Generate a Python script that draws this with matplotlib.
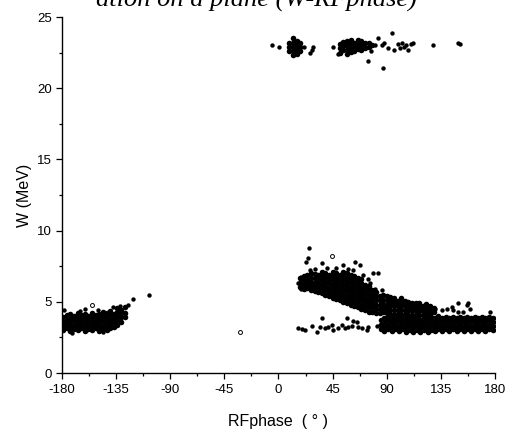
import matplotlib
matplotlib.use("Agg")
import matplotlib.pyplot as plt
from matplotlib.ticker import MultipleLocator

plt.rcParams['font.family'] = ['Liberation Sans', 'DejaVu Sans']
plt.rcParams['axes.unicode_minus'] = False

# ---------------- data (phase in degrees, W in MeV) ----------------
# left low-energy cluster, columns: (phase, [W values])
left_cols = [
    (-179, [3.0, 3.3, 3.6, 3.9]),
    (-176, [3.15, 3.45, 3.75, 4.05]),
    (-173, [2.95, 3.25, 3.55, 3.85, 4.15]),
    (-170, [3.1, 3.4, 3.7, 4.0]),
    (-167, [3.0, 3.3, 3.6, 3.9, 4.2]),
    (-164, [3.15, 3.45, 3.75, 4.05]),
    (-161, [2.95, 3.25, 3.55, 3.85, 4.15]),
    (-158, [3.1, 3.4, 3.7, 4.0]),
    (-155, [3.0, 3.3, 3.6, 3.9, 4.2]),
    (-152, [3.15, 3.45, 3.75, 4.05]),
    (-149, [2.95, 3.25, 3.55, 3.85, 4.15]),
    (-146, [3.1, 3.4, 3.7, 4.0, 4.3]),
    (-143, [3.0, 3.3, 3.6, 3.9, 4.2]),
    (-140, [3.15, 3.45, 3.75, 4.05, 4.35]),
    (-137, [3.25, 3.55, 3.85, 4.15]),
    (-134, [3.4, 3.7, 4.0, 4.3, 4.55]),
    (-131, [3.6, 3.9, 4.2, 4.45]),
    (-128, [3.9, 4.2, 4.6]),
]
left_extra_phase = [-178, -172, -161, -165, -150, -146, -125, -121, -108, -138, -132]
left_extra_w = [4.4, 2.8, 4.5, 4.35, 4.45, 2.85, 4.8, 5.2, 5.5, 4.6, 4.7]

# descending main band
band_cols = [
    (18, [6.05, 6.35, 6.65]),
    (21, [5.9, 6.2, 6.5, 6.8]),
    (24, [5.95, 6.25, 6.55, 6.85]),
    (27, [5.8, 6.1, 6.4, 6.7, 7.0]),
    (30, [5.75, 6.05, 6.35, 6.65, 6.95]),
    (33, [5.7, 6.0, 6.3, 6.6, 6.9]),
    (36, [5.6, 5.9, 6.2, 6.5, 6.8, 7.1]),
    (39, [5.5, 5.8, 6.1, 6.4, 6.7, 7.0]),
    (42, [5.4, 5.7, 6.0, 6.3, 6.6, 6.9]),
    (45, [5.3, 5.6, 5.9, 6.2, 6.5, 6.8, 7.1]),
    (48, [5.2, 5.5, 5.8, 6.1, 6.4, 6.7, 7.0]),
    (51, [5.1, 5.4, 5.7, 6.0, 6.3, 6.6, 6.9]),
    (54, [5.0, 5.3, 5.6, 5.9, 6.2, 6.5, 6.8, 7.1]),
    (57, [4.9, 5.2, 5.5, 5.8, 6.1, 6.4, 6.7, 7.0]),
    (60, [4.8, 5.1, 5.4, 5.7, 6.0, 6.3, 6.6, 6.9]),
    (63, [4.7, 5.0, 5.3, 5.6, 5.9, 6.2, 6.5, 6.8]),
    (66, [4.6, 4.9, 5.2, 5.5, 5.8, 6.1, 6.4, 6.7]),
    (69, [4.5, 4.8, 5.1, 5.4, 5.7, 6.0, 6.3, 6.6]),
    (72, [4.4, 4.7, 5.0, 5.3, 5.6, 5.9, 6.2]),
    (75, [4.3, 4.6, 4.9, 5.2, 5.5, 5.8, 6.1]),
    (78, [4.3, 4.6, 4.9, 5.2, 5.5, 5.8]),
    (81, [4.2, 4.5, 4.8, 5.1, 5.4, 5.7]),
    (84, [4.2, 4.5, 4.8, 5.1, 5.4]),
    (87, [4.25, 4.55, 4.85, 5.15, 5.45]),
    (90, [4.2, 4.5, 4.8, 5.1, 5.4]),
    (93, [4.15, 4.45, 4.75, 5.05, 5.35]),
    (96, [4.1, 4.4, 4.7, 5.0, 5.3]),
    (99, [4.15, 4.45, 4.75, 5.05]),
    (102, [4.1, 4.4, 4.7, 5.0, 5.25]),
    (105, [4.15, 4.45, 4.75, 5.05]),
    (108, [4.1, 4.4, 4.7, 5.0]),
    (111, [4.05, 4.35, 4.65, 4.95]),
    (114, [4.1, 4.4, 4.7, 4.95]),
    (117, [4.05, 4.35, 4.65, 4.9]),
    (120, [4.1, 4.4, 4.7]),
    (123, [4.05, 4.35, 4.65, 4.85]),
    (126, [4.15, 4.45, 4.7]),
    (129, [4.25, 4.55]),
]

# lower flat band
low_cols = [
    (85, [3.1, 3.4, 3.7]),
    (88, [2.95, 3.25, 3.55, 3.85]),
    (91, [3.1, 3.4, 3.7, 4.0]),
    (94, [2.95, 3.25, 3.55, 3.85]),
    (97, [3.1, 3.4, 3.7, 4.0]),
    (100, [2.95, 3.25, 3.55, 3.85]),
    (103, [3.1, 3.4, 3.7, 4.0]),
    (106, [2.9, 3.2, 3.5, 3.8]),
    (109, [3.05, 3.35, 3.65, 3.95]),
    (112, [2.9, 3.2, 3.5, 3.8]),
    (115, [3.05, 3.35, 3.65, 3.95]),
    (118, [2.85, 3.15, 3.45, 3.75]),
    (121, [3.0, 3.3, 3.6, 3.9]),
    (124, [2.9, 3.2, 3.5, 3.8]),
    (127, [3.05, 3.35, 3.65, 3.95]),
    (130, [2.95, 3.25, 3.55, 3.85]),
    (133, [3.1, 3.4, 3.7, 4.0]),
    (136, [2.95, 3.25, 3.55, 3.85]),
    (139, [3.1, 3.4, 3.7, 3.95]),
    (142, [2.95, 3.25, 3.55, 3.85]),
    (145, [3.1, 3.4, 3.7, 3.95]),
    (148, [2.95, 3.25, 3.55, 3.85]),
    (151, [3.1, 3.4, 3.7, 3.95]),
    (154, [2.95, 3.25, 3.55, 3.85]),
    (157, [3.1, 3.4, 3.7, 3.95]),
    (160, [2.95, 3.25, 3.55, 3.85]),
    (163, [3.1, 3.4, 3.7, 3.95]),
    (166, [2.95, 3.25, 3.55, 3.85]),
    (169, [3.1, 3.4, 3.7, 3.95]),
    (172, [2.95, 3.25, 3.55, 3.85]),
    (175, [3.1, 3.4, 3.7, 3.95]),
    (178, [3.0, 3.3, 3.6, 3.85]),
]

# scattered points around the main band
mid_extra_phase = [25, 24.5, 23, 36, 53.6, 63.6, 67.8, 78.6, 82.7, 19, 16, 18.5, 26, 30,
                   40, 48, 58, 62, 70, 74, 76, 80, 86,
                   130, 135.7, 139.8, 144, 149.5, 149.5, 156.5, 159, 145.3, 153.7, 157.8, 175.8,
                   16.5, 19.3, 22.0, 27.6, 31.7, 34.5, 35.9, 38.7, 41.4, 44.2, 45.6, 49.7,
                   52.5, 55.3, 56.7, 58.0, 60.8, 62.2, 65.0, 66.3, 69.2, 73.3, 74.7, 81.6,
                   84.4, 90]
mid_extra_w = [8.75, 8.1, 7.8, 7.7, 7.6, 7.8, 7.6, 7.0, 7.0, 6.75, 6.3, 5.9, 7.2, 7.3,
               7.35, 7.4, 7.3, 7.2, 6.9, 6.6, 6.3, 5.9, 5.8,
               4.5, 4.4, 4.5, 4.65, 4.9, 4.3, 4.76, 4.5, 4.4, 4.3, 4.9, 4.3,
               3.13, 3.06, 3.01, 3.29, 2.89, 3.2, 3.83, 3.13, 3.24, 3.36, 3.01, 3.13,
               3.36, 3.13, 3.83, 3.2, 3.29, 3.66, 3.6, 3.24, 3.13, 3.01, 3.2, 3.29,
               3.36, 3.24]

# high-energy cluster near W = 23 MeV
top_cols = [
    (9, [22.6, 22.9, 23.2]),
    (12, [22.3, 22.6, 22.9, 23.2, 23.5]),
    (15, [22.4, 22.7, 23.0, 23.3]),
    (18, [22.6, 22.9, 23.2]),
    (51, [22.5, 22.8, 23.1]),
    (54, [22.65, 22.95, 23.25]),
    (57, [22.4, 22.7, 23.0, 23.3]),
    (60, [22.55, 22.85, 23.15, 23.4]),
    (63, [22.6, 22.9, 23.2]),
    (66, [22.75, 23.05, 23.35]),
    (69, [22.7, 23.0, 23.3]),
    (72, [22.85, 23.15]),
    (75, [22.9, 23.2]),
    (78, [23.0]),
]
top_extra_phase = [-5.7, 0.6, 16.5, 21, 26, 28, 29, 45.6, 49.5, 80, 83, 86, 88, 91, 94,
                   96, 99, 101, 103, 104, 106, 108, 110, 112, 128.5, 149.5, 151, 74.5,
                   87, 77]
top_extra_w = [23.04, 22.9, 23.0, 22.9, 22.5, 22.7, 22.9, 22.9, 22.4, 23.0, 23.5, 23.0,
               23.2, 22.85, 23.9, 22.7, 23.1, 22.8, 23.2, 22.9, 23.0, 22.7, 23.1, 23.2,
               23.0, 23.15, 23.1, 21.9, 21.4, 22.6]

# hollow markers
hollow_phase = [-155, 44.5, -32]
hollow_w = [4.8, 8.2, 2.9]

x_ticks = [-180, -135, -90, -45, 0, 45, 90, 135, 180]
y_ticks = [0, 5, 10, 15, 20, 25]


def flatten(cols):
    xs, ys = [], []
    for p, ws in cols:
        for w in ws:
            xs.append(p)
            ys.append(w)
    return xs, ys


fig = plt.figure(figsize=(5.06, 4.36), dpi=100)
ax = fig.add_axes([62 / 506, 63 / 436, 433 / 506, 356 / 436])

for cols in (left_cols, band_cols, low_cols, top_cols):
    xs, ys = flatten(cols)
    ax.scatter(xs, ys, s=16, c='black', linewidths=0, zorder=3)

for xs, ys in ((left_extra_phase, left_extra_w), (mid_extra_phase, mid_extra_w),
               (top_extra_phase, top_extra_w)):
    ax.scatter(xs, ys, s=10, c='black', linewidths=0, zorder=3)

ax.scatter(hollow_phase, hollow_w, s=8, facecolors='white', edgecolors='black',
           linewidths=0.7, zorder=4)

ax.set_xlim(-180, 180)
ax.set_ylim(0, 25)
ax.set_xticks(x_ticks)
ax.set_yticks(y_ticks)
ax.xaxis.set_minor_locator(MultipleLocator(22.5))
ax.yaxis.set_minor_locator(MultipleLocator(2.5))
for s in ('top', 'right'):
    ax.spines[s].set_visible(False)
for s in ('left', 'bottom'):
    ax.spines[s].set_linewidth(1.0)
ax.tick_params(which='major', direction='out', length=4, width=0.9, labelsize=9.5,
               colors='black')
ax.tick_params(axis='x', which='major', pad=4)
ax.tick_params(axis='y', which='major', pad=3)
ax.tick_params(which='minor', direction='out', length=2.5, width=0.9)

ax.set_ylabel('W (MeV)', fontsize=11.5, labelpad=4)
ax.set_xlabel('RFphase  ( ° )', fontsize=11.5, labelpad=13)

fig.text(256 / 506, 1 - 7 / 436, 'ation on a plane (W-RFphase)', ha='center',
         va='baseline', fontsize=19, family=['Liberation Serif', 'DejaVu Serif'],
         style='italic')

fig.savefig('out.png', dpi=100)
